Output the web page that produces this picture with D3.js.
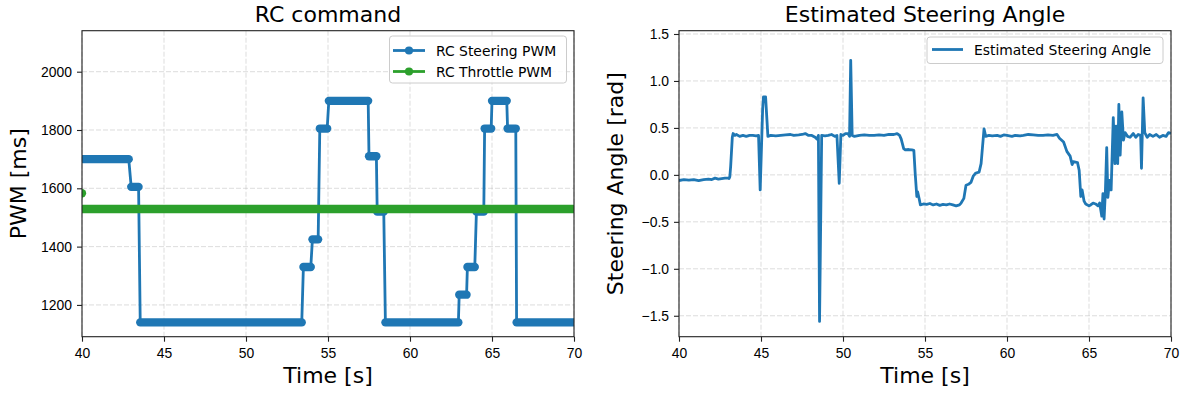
<!DOCTYPE html>
<html>
<head>
<meta charset="utf-8">
<script src="https://cdn.jsdelivr.net/npm/d3@7"></script>
<style>
  body { margin: 0; background: #fff; }
  svg { display: block; font-family: "DejaVu Sans", sans-serif; }
  .grid line { stroke: #b0b0b0; stroke-opacity: 0.55; stroke-dasharray: 5,2; stroke-width: 0.8; }
  .axis path, .axis line { stroke: #222; stroke-width: 1.1; }
  .axis text { font-size: 13.9px; fill: #000; }
</style>
</head>
<body>
<svg id="chart" width="1185" height="397"></svg>
<script>
// RC command: steering PWM levels (start time, end time, value)
const steerStart = [39.8, 43.0, 43.55, 53.5, 54.05, 54.5, 55.05, 57.5, 58.0, 58.5, 63.0, 63.5, 64.05, 64.55, 65.0, 65.95, 66.5];
const steerEnd   = [42.85, 43.45, 53.4, 53.95, 54.4, 54.95, 57.45, 57.95, 58.4, 62.95, 63.45, 63.95, 64.5, 64.95, 65.9, 66.45, 70.3];
const steerPwm   = [1700, 1605, 1140, 1330, 1425, 1805, 1900, 1710, 1520, 1140, 1235, 1330, 1520, 1805, 1900, 1805, 1140];

// RC command: throttle PWM (one outlier sample, then a constant run)
const throttleStart = [40.0, 39.8];
const throttleEnd   = [40.0, 70.3];
const throttlePwm   = [1583, 1529];

// Estimated steering angle samples
const angleT = [40.0, 40.3, 40.6, 40.9, 41.2, 41.5, 41.8, 42.0, 42.2, 42.4, 42.6, 42.8, 43.0, 43.05, 43.1, 43.15, 43.25, 43.3, 43.4, 43.5,
  43.7, 43.9, 44.1, 44.3, 44.5, 44.7, 44.85, 44.95, 45.1, 45.15, 45.28, 45.42, 45.6, 45.9, 46.2, 46.5, 46.8, 47.0, 47.3, 47.5,
  47.7, 47.9, 48.1, 48.3, 48.42, 48.5, 48.57, 48.7, 48.9, 49.1, 49.3, 49.5, 49.63, 49.77, 49.87, 50.0, 50.15, 50.3, 50.4, 50.47,
  50.56, 50.7, 51.0, 51.3, 51.6, 51.9, 52.2, 52.5, 52.8, 53.1, 53.3, 53.45, 53.55, 53.7, 53.8, 54.0, 54.2, 54.32, 54.4, 54.5,
  54.55, 54.65, 54.72, 54.9, 55.1, 55.3, 55.5, 55.7, 55.9, 56.1, 56.3, 56.5, 56.7, 56.9, 57.1, 57.2, 57.37, 57.5, 57.65, 57.8,
  57.95, 58.1, 58.3, 58.42, 58.6, 58.7, 58.9, 59.1, 59.4, 59.6, 59.8, 60.0, 60.3, 60.5, 60.8, 61.0, 61.3, 61.6, 61.9, 62.2,
  62.5, 62.8, 63.05, 63.2, 63.45, 63.65, 63.85, 63.97, 64.05, 64.3, 64.4, 64.5, 64.58, 64.7, 64.8, 65.0, 65.1, 65.25, 65.4, 65.55,
  65.65, 65.78, 65.85, 65.92, 66.0, 66.08, 66.15, 66.25, 66.35, 66.48, 66.58, 66.65, 66.75, 66.82, 66.9, 67.0, 67.1, 67.2, 67.35, 67.5,
  67.7, 67.85, 68.0, 68.15, 68.2, 68.3, 68.4, 68.55, 68.7, 68.9, 69.1, 69.3, 69.5, 69.7, 69.85, 70.0];
const angleV = [-0.06, -0.05, -0.055, -0.05, -0.06, -0.05, -0.045, -0.05, -0.035, -0.045, -0.04, -0.035, -0.035, -0.04, -0.02, 0.09, 0.40, 0.44, 0.42, 0.43,
  0.41, 0.42, 0.41, 0.42, 0.42, 0.415, 0.42, -0.16, 0.70, 0.83, 0.83, 0.41, 0.42, 0.415, 0.42, 0.425, 0.43, 0.42, 0.425, 0.43,
  0.44, 0.42, 0.42, 0.40, 0.38, 0.42, -1.56, 0.42, 0.415, 0.42, 0.43, 0.41, 0.42, -0.09, 0.43, 0.42, 0.44, 0.44, 0.41, 1.22,
  0.42, 0.41, 0.42, 0.425, 0.42, 0.42, 0.425, 0.42, 0.43, 0.43, 0.44, 0.42, 0.38, 0.28, 0.266, 0.27, 0.265, 0.26, 0.02, -0.23,
  -0.18, -0.26, -0.32, -0.31, -0.315, -0.305, -0.32, -0.31, -0.325, -0.315, -0.32, -0.31, -0.32, -0.33, -0.32, -0.30, -0.25, -0.11, -0.10, -0.08,
  -0.01, 0.02, 0.03, 0.12, 0.49, 0.41, 0.42, 0.415, 0.42, 0.41, 0.425, 0.42, 0.41, 0.42, 0.415, 0.42, 0.43, 0.425, 0.42, 0.42,
  0.425, 0.42, 0.43, 0.39, 0.35, 0.25, 0.20, 0.11, 0.14, 0.13, 0.05, -0.23, -0.16, -0.28, -0.31, -0.33, -0.32, -0.30, -0.31, -0.33,
  -0.30, -0.44, -0.20, -0.47, -0.17, 0.29, -0.24, -0.06, -0.16, 0.61, 0.12, 0.52, 0.12, 0.75, 0.21, 0.67, 0.37, 0.45, 0.41, 0.40,
  0.44, 0.40, 0.43, 0.42, 0.07, 0.82, 0.45, 0.40, 0.43, 0.41, 0.43, 0.40, 0.42, 0.41, 0.45, 0.44];

const timeTicks = [40, 45, 50, 55, 60, 65, 70];
const pwmTicks = [1200, 1400, 1600, 1800, 2000];
const angleTicks = [-1.5, -1.0, -0.5, 0.0, 0.5, 1.0, 1.5];

const BLUE = "#1f77b4", GREEN = "#2ca02c";
const svg = d3.select("#chart");
const plotTop = 30.7, plotBottom = 336.7;

// Build one panel: frame, grid, axes, labels. Returns scales and a clipped group.
function panel(id, x0, x1, yDomain, yTicks, yFmt, title, yLabel, yLabelX) {
    const x = d3.scaleLinear().domain([40, 70]).range([x0, x1]);
    const y = d3.scaleLinear().domain(yDomain).range([plotBottom, plotTop]);
    const g = svg.append("g");

    g.append("defs").append("clipPath").attr("id", id)
        .append("rect").attr("x", x0).attr("y", plotTop)
        .attr("width", x1 - x0).attr("height", plotBottom - plotTop);

    const grid = g.append("g").attr("class", "grid");
    grid.selectAll(".gx").data(timeTicks).join("line")
        .attr("x1", d => x(d)).attr("x2", d => x(d)).attr("y1", plotTop).attr("y2", plotBottom);
    grid.selectAll(".gy").data(yTicks).join("line")
        .attr("x1", x0).attr("x2", x1).attr("y1", d => y(d)).attr("y2", d => y(d));

    const plot = g.append("g").attr("clip-path", `url(#${id})`);

    const frame = g.append("g");
    frame.append("g").attr("class", "axis").attr("transform", `translate(0,${plotBottom})`)
        .call(d3.axisBottom(x).tickValues(timeTicks).tickSize(5).tickPadding(6).tickFormat(d3.format("d")))
        .call(s => s.select(".domain").remove());
    frame.append("g").attr("class", "axis").attr("transform", `translate(${x0},0)`)
        .call(d3.axisLeft(y).tickValues(yTicks).tickSize(5).tickPadding(5).tickFormat(yFmt))
        .call(s => s.select(".domain").remove());
    frame.append("rect").attr("x", x0).attr("y", plotTop)
        .attr("width", x1 - x0).attr("height", plotBottom - plotTop)
        .attr("fill", "none").attr("stroke", "#222").attr("stroke-width", 1.1);

    const cx = (x0 + x1) / 2;
    g.append("text").attr("x", cx).attr("y", 22).attr("text-anchor", "middle")
        .style("font-size", "22px").text(title);
    g.append("text").attr("x", cx).attr("y", 383).attr("text-anchor", "middle")
        .style("font-size", "22px").text("Time [s]");
    g.append("text").attr("transform", `translate(${yLabelX},${(plotTop + plotBottom) / 2}) rotate(-90)`)
        .attr("text-anchor", "middle").style("font-size", "22px").text(yLabel);

    return { x, y, plot, frame };
}

// Step signal: thin line through the levels plus dense-marker bands
function stepSeries(p, starts, ends, vals, color) {
    const pts = [];
    vals.forEach((v, i) => { pts.push([starts[i], v]); pts.push([ends[i], v]); });
    p.plot.append("path").datum(pts)
        .attr("fill", "none").attr("stroke", color).attr("stroke-width", 2.8)
        .attr("d", d3.line().x(d => p.x(d[0])).y(d => p.y(d[1])));
    p.plot.selectAll(null).data(vals).join("line")
        .attr("x1", (d, i) => p.x(starts[i])).attr("x2", (d, i) => p.x(ends[i]))
        .attr("y1", d => p.y(d)).attr("y2", d => p.y(d))
        .attr("stroke", color).attr("stroke-width", 8.3).attr("stroke-linecap", "round");
}

function legendBox(g, x0, y0, w, h) {
    g.append("rect").attr("x", x0).attr("y", y0).attr("width", w).attr("height", h)
        .attr("rx", 3).attr("fill", "#fff").attr("fill-opacity", 0.8)
        .attr("stroke", "#cccccc").attr("stroke-width", 1);
}

// ---- Left: RC command ----
const rcPanel = panel("clipL", 82, 574, [1091, 2140.6], pwmTicks, d3.format("d"), "RC command", "PWM [ms]", 26);
stepSeries(rcPanel, steerStart, steerEnd, steerPwm, BLUE);
stepSeries(rcPanel, throttleStart, throttleEnd, throttlePwm, GREEN);

const legL = rcPanel.frame.append("g");
legendBox(legL, 389.5, 36, 177, 47);
[["RC Steering PWM", BLUE, 50.5], ["RC Throttle PWM", GREEN, 71.5]].forEach(([name, c, yy]) => {
    legL.append("line").attr("x1", 393).attr("x2", 425).attr("y1", yy).attr("y2", yy)
        .attr("stroke", c).attr("stroke-width", 2.8);
    legL.append("circle").attr("cx", 409).attr("cy", yy).attr("r", 4.1).attr("fill", c);
    legL.append("text").attr("x", 436).attr("y", yy).attr("dy", "0.36em")
        .style("font-size", "13.9px").text(name);
});

// ---- Right: Estimated Steering Angle ----
const anglePanel = panel("clipR", 679, 1171, [-1.723, 1.535], angleTicks, d3.format(".1f"), "Estimated Steering Angle", "Steering Angle [rad]", 623);
anglePanel.plot.append("path").datum(d3.zip(angleT, angleV))
    .attr("fill", "none").attr("stroke", BLUE).attr("stroke-width", 2.8)
    .attr("stroke-linejoin", "round")
    .attr("d", d3.line().x(d => anglePanel.x(d[0])).y(d => anglePanel.y(d[1])));

const legR = anglePanel.frame.append("g");
legendBox(legR, 927, 37, 236, 26.5);
legR.append("line").attr("x1", 932).attr("x2", 963).attr("y1", 49.5).attr("y2", 49.5)
    .attr("stroke", BLUE).attr("stroke-width", 2.8);
legR.append("text").attr("x", 974).attr("y", 49.5).attr("dy", "0.36em")
    .style("font-size", "13.9px").text("Estimated Steering Angle");
</script>
</body>
</html>
